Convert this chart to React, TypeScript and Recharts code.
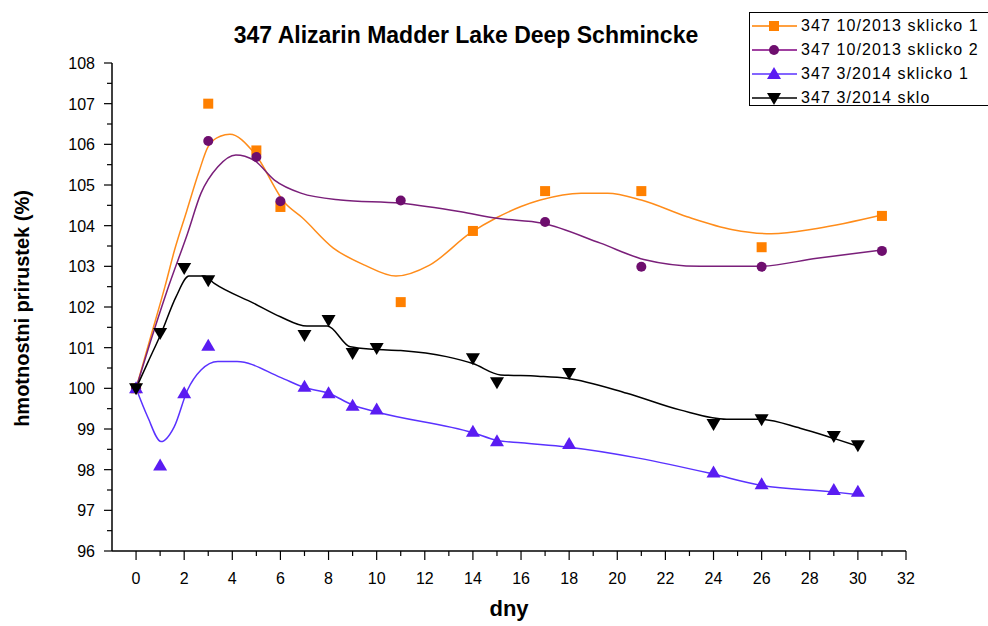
import React from 'react';
import { ComposedChart, Line, Scatter, XAxis, YAxis } from 'recharts';

// measured points [day, %]
const orangePts = [[0, 100], [3, 107.0], [5, 105.85], [6, 104.46], [11, 102.12], [14, 103.87], [17, 104.85], [21, 104.85], [26, 103.47], [31, 104.24]];
const purplePts = [[0, 100], [3, 106.08], [5, 105.69], [6, 104.6], [11, 104.62], [17, 104.09], [21, 102.99], [26, 102.99], [31, 103.38]];
const bluePts = [[0, 100], [1, 98.1], [2, 99.88], [3, 101.05], [7, 100.04], [8, 99.88], [9, 99.57], [10, 99.48], [14, 98.93], [15, 98.7], [18, 98.63], [24, 97.93], [26, 97.64], [29, 97.5], [30, 97.46]];
const blackPts = [[0, 100], [1, 101.36], [2, 102.96], [3, 102.66], [7, 101.31], [8, 101.68], [9, 100.87], [10, 100.99], [14, 100.74], [15, 100.15], [18, 100.38], [24, 99.12], [26, 99.24], [29, 98.83], [30, 98.6]];

// fitted curves
const orangeCurve = [[0, 100], [0.6, 101.25], [1.2, 102.5], [1.6, 103.4], [2.1, 104.35], [2.6, 105.3], [3, 105.95], [3.5, 106.2], [3.9, 106.25], [4.9, 105.8], [6.2, 104.55], [6.9, 104.2], [8.2, 103.45], [9.5, 103.03], [10.8, 102.76], [12.2, 103.03], [13.9, 103.82], [15, 104.2], [16, 104.47], [16.8, 104.63], [18.5, 104.8], [19.6, 104.8], [21, 104.63], [22.9, 104.22], [24.8, 103.9], [26.4, 103.8], [28.3, 103.93], [31, 104.26]];
const purpleCurve = [[0, 100], [0.6, 101.15], [1.3, 102.42], [2.14, 103.81], [2.7, 104.8], [3.4, 105.45], [4.15, 105.74], [4.9, 105.61], [5.75, 105.12], [6.85, 104.8], [8.5, 104.63], [11, 104.55], [13.5, 104.34], [15, 104.18], [16.9, 104.06], [19.3, 103.57], [21.1, 103.17], [23.45, 103.0], [25.9, 103.0], [28.3, 103.2], [31, 103.4]];
const blueCurve = [[0, 100], [0.48, 99.3], [1.04, 98.69], [1.59, 99.06], [2.14, 99.96], [2.7, 100.45], [3.4, 100.66], [4.2, 100.66], [6, 100.27], [7, 100.02], [8, 99.88], [9, 99.59], [10, 99.42], [14, 98.91], [15, 98.72], [16, 98.66], [17.9, 98.56], [23.86, 97.91], [25.93, 97.62], [28.84, 97.46], [30.15, 97.38]];
const blackCurve = [[0, 100], [0.5, 100.65], [1.04, 101.35], [1.66, 102.25], [2.2, 102.76], [2.83, 102.76], [3.25, 102.58], [4.9, 102.09], [6, 101.76], [7.1, 101.53], [7.95, 101.53], [8.9, 101.02], [9.9, 100.96], [11, 100.93], [12.9, 100.78], [14, 100.61], [15.15, 100.33], [16.7, 100.3], [17.9, 100.25], [20.4, 99.88], [22.6, 99.47], [24.55, 99.24], [25.9, 99.24], [27.6, 99.02], [29, 98.77], [30.1, 98.56]];

const xTicks = [0, 1, 2, 3, 4, 5, 6, 7, 8, 9, 10, 11, 12, 13, 14, 15, 16, 17, 18, 19, 20, 21, 22, 23, 24, 25, 26, 27, 28, 29, 30, 31, 32];
const yTicks = [96, 96.5, 97, 97.5, 98, 98.5, 99, 99.5, 100, 100.5, 101, 101.5, 102, 102.5, 103, 103.5, 104, 104.5, 105, 105.5, 106, 106.5, 107, 107.5, 108];

const seriesNames = ['347 10/2013 sklicko 1', '347 10/2013 sklicko 2', '347 3/2014 sklicko 1', '347 3/2014 sklo'];

const toRows = (arr: number[][]) => arr.map(([x, v]) => ({ x, v }));

const FONT = '"Liberation Sans", Arial, sans-serif';

const Square = ({ cx, cy }: any) => <rect x={cx - 5} y={cy - 5} width={10} height={10} fill="#ff8000" />;
const Dot = ({ cx, cy }: any) => <circle cx={cx} cy={cy} r={5} fill="#6e0e6e" />;
const UpTri = ({ cx, cy }: any) => <polygon points={`${cx},${cy - 7} ${cx + 7},${cy + 5} ${cx - 7},${cy + 5}`} fill="#5a1cf2" />;
const DownTri = ({ cx, cy }: any) => <polygon points={`${cx - 7},${cy - 5} ${cx + 7},${cy - 5} ${cx},${cy + 7}`} fill="#000" />;

const XTick = ({ x, y, payload }: any) => {
  const major = payload.value % 2 === 0;
  return (
    <g>
      <line x1={x} x2={x} y1={y} y2={y + (major ? 9 : 5)} stroke="#000" strokeWidth={1.2} />
      {major && (
        <text x={x} y={y + 33} textAnchor="middle" fontSize={16} fontFamily={FONT} fill="#000">{payload.value}</text>
      )}
    </g>
  );
};

const YTick = ({ x, y, payload }: any) => {
  const major = Number.isInteger(payload.value);
  return (
    <g>
      <line x1={x} x2={x - (major ? 8 : 5)} y1={y} y2={y} stroke="#000" strokeWidth={1.2} />
      {major && (
        <text x={x - 17} y={y + 6} textAnchor="end" fontSize={16} fontFamily={FONT} fill="#000">{payload.value}</text>
      )}
    </g>
  );
};

const legendMarks = [
  { color: '#ff8000', mark: <rect x={18} y={3} width={10} height={10} fill="#ff8000" /> },
  { color: '#800080', mark: <circle cx={23} cy={8} r={5} fill="#6e0e6e" /> },
  { color: '#5a32ff', mark: <polygon points="23,1 30,13 16,13" fill="#5a1cf2" /> },
  { color: '#000', mark: <polygon points="16,3 30,3 23,15" fill="#000" /> },
];

export default function App() {
  return (
    <div style={{ position: 'absolute', left: 0, top: 0, width: 988, height: 626, overflow: 'hidden', background: '#fff', fontFamily: FONT }}>
      <ComposedChart width={988} height={626} margin={{ top: 63, right: 82, bottom: 45, left: 0 }}>
        <XAxis dataKey="x" type="number" domain={[-1, 32]} ticks={xTicks} allowDataOverflow interval={0}
          axisLine={{ stroke: '#000', strokeWidth: 1.5 }} tickLine={false} tickSize={0} tickMargin={0} tick={<XTick />} height={30} />
        <YAxis type="number" domain={[96, 108]} ticks={yTicks} allowDataOverflow interval={0} width={112}
          axisLine={{ stroke: '#000', strokeWidth: 1.5 }} tickLine={false} tickSize={0} tickMargin={0} tick={<YTick />} />
        <Line data={toRows(orangeCurve)} dataKey="v" type="monotone" stroke="#ff8c1a" strokeWidth={1.5} dot={false} isAnimationActive={false} />
        <Line data={toRows(purpleCurve)} dataKey="v" type="monotone" stroke="#7a1f7a" strokeWidth={1.5} dot={false} isAnimationActive={false} />
        <Line data={toRows(blueCurve)} dataKey="v" type="monotone" stroke="#5a32ff" strokeWidth={1.5} dot={false} isAnimationActive={false} />
        <Line data={toRows(blackCurve)} dataKey="v" type="monotone" stroke="#000" strokeWidth={1.5} dot={false} isAnimationActive={false} />
        <Scatter data={toRows(orangePts)} dataKey="v" shape={<Square />} isAnimationActive={false} />
        <Scatter data={toRows(purplePts)} dataKey="v" shape={<Dot />} isAnimationActive={false} />
        <Scatter data={toRows(bluePts)} dataKey="v" shape={<UpTri />} isAnimationActive={false} />
        <Scatter data={toRows(blackPts)} dataKey="v" shape={<DownTri />} isAnimationActive={false} />
      </ComposedChart>

      <div style={{ position: 'absolute', left: 0, width: 932, top: 22, textAlign: 'center', fontSize: 23, fontWeight: 'bold' }}>
        347 Alizarin Madder Lake Deep Schmincke
      </div>
      <div style={{ position: 'absolute', left: 112, width: 794, top: 596, textAlign: 'center', fontSize: 22, fontWeight: 'bold' }}>dny</div>
      <div style={{ position: 'absolute', left: 22, top: 310, width: 0, height: 0 }}>
        <div style={{ position: 'absolute', left: -200, top: -13, width: 400, textAlign: 'center', transform: 'rotate(-90deg)', fontSize: 20, fontWeight: 'bold', whiteSpace: 'nowrap' }}>
          hmotnostni prirustek (%)
        </div>
      </div>

      <div style={{ position: 'absolute', left: 749, top: 12, width: 239, height: 94, borderLeft: '1.5px solid #000', borderTop: '1.5px solid #000', borderBottom: '1.5px solid #000', boxSizing: 'border-box', overflow: 'hidden' }}>
        {seriesNames.map((name, i) => (
          <div key={name} style={{ position: 'absolute', left: 1, top: 3 + i * 24, height: 20, display: 'flex', alignItems: 'center', whiteSpace: 'nowrap' }}>
            <svg width={48} height={16} style={{ flex: 'none' }}>
              <line x1={1} x2={46} y1={8} y2={8} stroke={legendMarks[i].color} strokeWidth={1.5} />
              {legendMarks[i].mark}
            </svg>
            <span style={{ fontSize: 16, letterSpacing: 1.1, marginLeft: 2 }}>{name}</span>
          </div>
        ))}
      </div>
    </div>
  );
}
